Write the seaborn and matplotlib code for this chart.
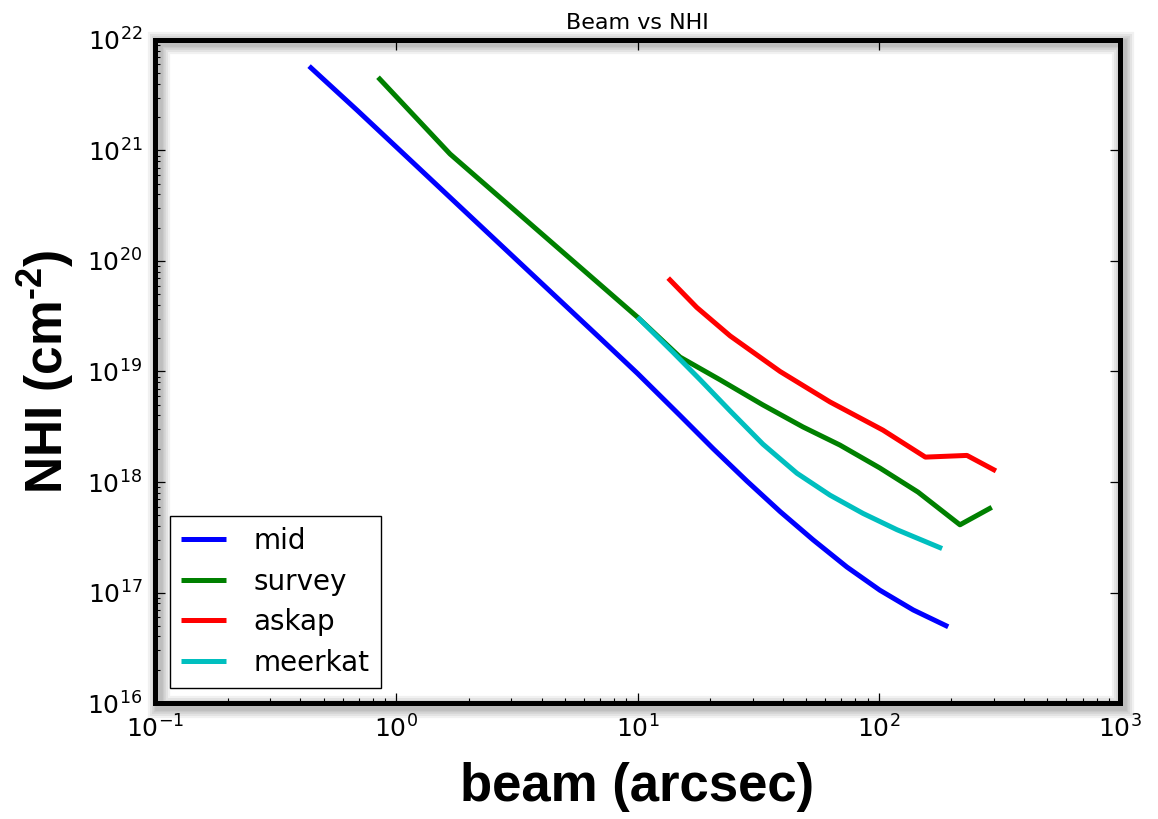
import numpy as np
import pandas as pd
import seaborn as sns
import matplotlib
matplotlib.use("Agg")
import matplotlib.pyplot as plt
import matplotlib.transforms as mtransforms
from matplotlib.patches import Rectangle
from matplotlib.lines import Line2D

# values
mid_beam = [0.435, 0.69, 7.0, 10, 15, 20.6, 28.4, 39, 53.4, 73.8, 101, 139, 194]
mid_nhi = [5.8e21, 2.3e21, 2.0e19, 9.6e18, 4.0e18, 2.0e18, 1.02e18,
           5.4e17, 3.0e17, 1.70e17, 1.05e17, 6.95e16, 4.9e16]

survey_beam = [0.84, 1.67, 10, 15, 22, 33, 48.5, 69, 101, 145.5, 217, 294]
survey_nhi = [4.6e21, 9.3e20, 3.1e19, 1.35e19, 8.4e18, 5.0e18, 3.15e18,
              2.16e18, 1.34e18, 8.1e17, 4.1e17, 5.9e17]

askap_beam = [13.4, 17.6, 24.2, 39, 62.8, 104, 156, 232, 306]
askap_nhi = [7.0e19, 3.8e19, 2.1e19, 1.0e19, 5.3e18, 2.95e18, 1.68e18,
             1.74e18, 1.26e18]

meerkat_beam = [10, 14, 18.2, 24.2, 33.1, 45.8, 62.8, 86, 119, 183]
meerkat_nhi = [3.1e19, 1.5e19, 8.4e18, 4.4e18, 2.2e18, 1.2e18, 7.6e17,
               5.2e17, 3.7e17, 2.5e17]

names = ["mid", "survey", "askap", "meerkat"]
colors = {"mid": "#0000ff", "survey": "#008000", "askap": "#ff0000", "meerkat": "#00bfbf"}

frames = []
for name, bx, ny in [("mid", mid_beam, mid_nhi), ("survey", survey_beam, survey_nhi),
                     ("askap", askap_beam, askap_nhi), ("meerkat", meerkat_beam, meerkat_nhi)]:
    frames.append(pd.DataFrame({"beam": bx, "nhi": ny, "name": name}))
df = pd.concat(frames, ignore_index=True)

sns.set_style("white")
plt.rcParams["font.family"] = ["DejaVu Sans"]
plt.rcParams["text.color"] = "k"
plt.rcParams["axes.labelcolor"] = "k"
plt.rcParams["xtick.color"] = "k"
plt.rcParams["ytick.color"] = "k"
plt.rcParams["mathtext.fontset"] = "custom"
plt.rcParams["mathtext.bf"] = "Liberation Sans:bold"
plt.rcParams["mathtext.rm"] = "Liberation Sans:bold"

fig = plt.figure(figsize=(11.58, 8.19), dpi=100)
ax = fig.add_axes([0.1339, 0.1416, 0.8333, 0.8096])

sns.lineplot(data=df, x="beam", y="nhi", hue="name", hue_order=names,
             palette=colors, sort=False, estimator=None, linewidth=3.6,
             legend=False, ax=ax, solid_capstyle="butt")

ax.set_xscale("log")
ax.set_yscale("log")
ax.set_xlim(0.1, 1000)
ax.set_ylim(1e16, 1e22)

# thick frame with a soft drop shadow
off = mtransforms.ScaledTranslation(2.5 / 72, -2.5 / 72, fig.dpi_scale_trans)
for w in (16, 13, 10, 7.5, 5.5):
    ax.add_patch(Rectangle((0, 0), 1, 1, transform=ax.transAxes + off, fill=False,
                           lw=w, edgecolor="k", alpha=0.055, clip_on=False,
                           zorder=0.5, joinstyle="miter"))
for sp in ax.spines.values():
    sp.set_visible(True)
    sp.set_color("k")
    sp.set_linewidth(3.6)

ax.tick_params(which="both", direction="in", labelsize=18, color="k", pad=9)
ax.tick_params(which="major", length=7, width=0.9, top=True, right=True,
               bottom=True, left=True)
ax.tick_params(which="minor", length=3.5, width=0.8, bottom=True, left=True,
               top=False, right=False)

ax.set_title("Beam vs NHI", fontsize=16, pad=8)
ax.set_xlabel("beam (arcsec)", fontsize=38, fontweight="bold",
              family="Liberation Sans", labelpad=14)
ax.set_ylabel("NHI (cm$^{\\mathbf{\u20102}}$)", fontsize=37, fontweight="bold",
              family="Liberation Sans", labelpad=8)

handles = [Line2D([], [], color=colors[n], linewidth=3.6, solid_capstyle="butt") for n in names]
leg = ax.legend(handles, names, loc="lower left", fontsize=20, frameon=True,
                fancybox=False, edgecolor="k", handlelength=1.6,
                handletextpad=1.0, labelspacing=0.45, borderaxespad=0.55,
                borderpad=0.4)
leg.get_frame().set_linewidth(1.0)
leg.get_frame().set_alpha(1)

fig.savefig("out.png", dpi=100)
